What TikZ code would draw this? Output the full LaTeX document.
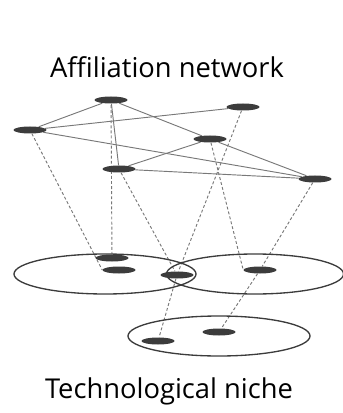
\documentclass[tikz,border=0pt]{standalone}
\usepackage{fontspec}
\setmainfont{Open Sans}
\usetikzlibrary{shapes.geometric,backgrounds}
\definecolor{nodoGris}{RGB}{60,60,60}
\definecolor{lineaGris}{RGB}{120,120,120}

\begin{document}
\begin{tikzpicture}[
    x=0.75pt, y=-0.75pt,
    actor/.style={
        ellipse,
        fill=nodoGris,
        draw=none,
        inner sep=0pt,
        minimum width=24.75pt,
        minimum height=5.25pt
    },
    niche/.style={
        ellipse,
        draw=nodoGris,
        line width=1pt,
        inner sep=0pt,
        minimum height=30pt
    },
    tie/.style={
        lineaGris,
        line width=0.7pt
    },
    link/.style={
        lineaGris,
        line width=0.7pt,
        dash pattern=on 2.2pt off 1.6pt
    },
    caption/.style={
        font=\fontsize{20.5}{24}\selectfont,
        text=black
    }
]
\useasboundingbox (0,0) rectangle (342,413);

% TITLES
\node[caption] (titletop) at (167,67) {Affiliation network};
\node[caption] (titlebottom) at (169,391) {Technological niche};

% NICHES
\node[niche, minimum width=136.5pt] (nicheleft) at (105,274) {};
\node[niche, minimum width=132.75pt] (nicheright) at (255,274) {};
\node[niche, minimum width=136.5pt] (nichelow) at (219,336) {};

% AFFILIATION NETWORK
\node[actor] (u1) at (111,100) {};
\node[actor] (u2) at (243,107) {};
\node[actor] (u3) at (30,130) {};
\node[actor] (u4) at (210,139) {};
\node[actor] (u5) at (119,169) {};
\node[actor] (u6) at (315,179) {};

% NICHE MEMBERS
\node[actor] (v1) at (112,258) {};
\node[actor] (v2) at (119,270) {};
\node[actor] (v3) at (177,275) {};
\node[actor] (v4) at (260,270) {};
\node[actor] (v5) at (219,332) {};
\node[actor] (v6) at (158,341) {};

\begin{scope}[on background layer]
% TIES
\draw[tie] (u1) -- (u3);
\draw[tie] (u1) -- (u5);
\draw[tie] (u1) -- (u4);
\draw[tie] (u4) -- (u6);
\draw[tie] (u3) -- (u2);
\draw[tie] (u3) -- (u6);
\draw[tie] (u5) -- (u4);
\draw[tie] (u5) -- (u6);

% PROJECTIONS
\draw[link] (u1.center) -- (v1);
\draw[link] (u3) -- (v2.west);
\draw[link] (u5) -- (v3);
\draw[link] (u2) -- (v3);
\draw[link] (v3) -- (v6);
\draw[link] (u4) -- (v4.west);
\draw[link] (u6) -- (v4);
\draw[link] (v4) -- (v5);
\end{scope}

\end{tikzpicture}
\end{document}
